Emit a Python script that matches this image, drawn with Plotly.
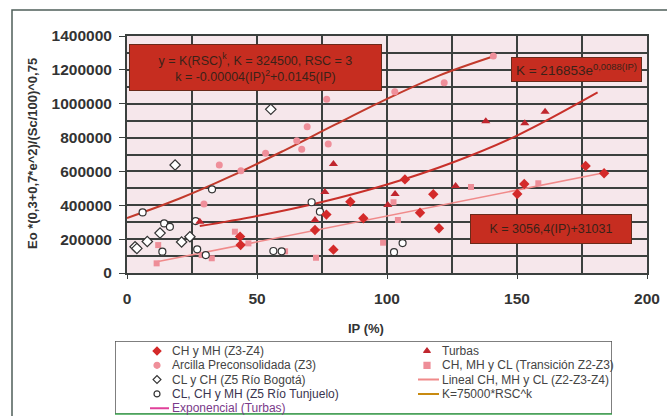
import plotly.graph_objects as go

# ---------------- data ----------------
chmh_ip = [43.5, 43.7, 72.3, 76.7, 79.4, 85.9, 90.9, 106.9, 112.7, 117.8, 120.0, 150.1, 152.8, 176.4, 183.5]
chmh_val = [215000, 165000, 254000, 345000, 138000, 421000, 323000, 553000, 356000, 465000, 264000, 467000, 526000, 632000, 589000]

turbas_ip = [28.0, 72.3, 76.1, 79.4, 100.3, 103.1, 126.4, 138.0, 153.0, 160.8]
turbas_val = [303000, 313000, 478000, 644000, 402000, 466000, 514000, 896000, 884000, 953000]

arcilla_ip = [29.6, 35.5, 43.8, 53.3, 65.3, 67.2, 69.3, 76.8, 77.4, 103.0, 122.0, 140.9]
arcilla_val = [408000, 638000, 604000, 707000, 781000, 731000, 864000, 1026000, 762000, 1071000, 1124000, 1282000]

trans_ip = [11.4, 12.0, 28.7, 32.6, 41.5, 46.7, 60.8, 72.7, 98.5, 102.5, 104.2, 132.3, 158.2]
trans_val = [57000, 165000, 106000, 87000, 244000, 175000, 128000, 90000, 179000, 418000, 313000, 508000, 530000]

bogota_ip = [3.1, 3.8, 7.8, 12.7, 18.5, 21.0, 24.2, 55.3]
bogota_val = [155000, 145000, 186000, 236000, 638000, 183000, 214000, 967000]

tunjuelo_ip = [6.0, 13.6, 14.3, 16.5, 26.4, 27.0, 30.3, 32.7, 56.3, 59.5, 71.0, 74.2, 102.7, 106.0]
tunjuelo_val = [358000, 126000, 293000, 273000, 307000, 140000, 106000, 494000, 130000, 128000, 418000, 362000, 123000, 177000]

# fitted curves
k_line_ip = [0, 20, 40, 60, 80, 100, 120, 141]
k_line_val = [324500, 438400, 572000, 720400, 876200, 1028400, 1165700, 1280000]

exp_ip = [28, 50, 75, 100, 125, 150, 181]
exp_val = [277400, 336700, 419500, 522800, 651500, 811700, 1066400]

lin_ip = [11, 100, 183]
lin_val = [64650, 336700, 590300]

legend_names = [
    "CH y MH (Z3-Z4)", "Turbas",
    "Arcilla Preconsolidada (Z3)", "CH, MH y CL (Transición Z2-Z3)",
    "CL y CH (Z5 Río Bogotá)", "Lineal CH, MH y CL (Z2-Z3-Z4)",
    "CL, CH y MH (Z5 Río Tunjuelo)", "K=75000*RSC^k",
    "Exponencial (Turbas)",
]

y_ticks = [0, 200000, 400000, 600000, 800000, 1000000, 1200000, 1400000]
x_ticks = [0, 50, 100, 150, 200]

# ---------------- styles ----------------
RED_D = "#d42a2a"
RED_T = "#c0262e"
PINK_C = "#ef8f9a"
PINK_S = "#ee8e98"
LINE_K = "#c23a2c"
LINE_E = "#c8302a"
LINE_L = "#f08a8a"
GRID = "#3b403e"
FONT = "Arial, Liberation Sans, sans-serif"

fig = go.Figure()

def add_pts(xs, ys, name, symbol, color, size, line_color=None, line_w=0):
    fig.add_trace(go.Scatter(
        x=xs, y=ys, mode="markers", name=name, showlegend=False,
        marker=dict(symbol=symbol, color=color, size=size,
                    line=dict(color=line_color or color, width=line_w)),
        xaxis="x", yaxis="y"))

# lines first
fig.add_trace(go.Scatter(x=k_line_ip, y=k_line_val, mode="lines", name=legend_names[7],
                         line=dict(color=LINE_K, width=2, shape="spline"), showlegend=False))
fig.add_trace(go.Scatter(x=exp_ip, y=exp_val, mode="lines", name=legend_names[8],
                         line=dict(color=LINE_E, width=2, shape="spline"), showlegend=False))
fig.add_trace(go.Scatter(x=lin_ip, y=lin_val, mode="lines", name=legend_names[5],
                         line=dict(color=LINE_L, width=1.6), showlegend=False))

add_pts(trans_ip, trans_val, legend_names[3], "square", PINK_S, 6)
add_pts(arcilla_ip, arcilla_val, legend_names[2], "circle", PINK_C, 7)
add_pts(bogota_ip, bogota_val, legend_names[4], "diamond", "white", 8, "#333333", 1.2)
add_pts(tunjuelo_ip, tunjuelo_val, legend_names[6], "circle", "white", 7, "#333333", 1.2)
add_pts(chmh_ip, chmh_val, legend_names[0], "diamond", RED_D, 8)
add_pts(turbas_ip, turbas_val, legend_names[1], "triangle-up", RED_T, 8)

# ---------------- manual legend (overlay axes in pixel-like units) ----------------
col_mx = [157, 427]
col_tx = [170, 440]
rows_y = [351, 365.3, 379.6, 393.9, 408.2]
leg_style = [
    ("marker", "diamond", RED_D),
    ("marker", "triangle-up", RED_T),
    ("marker", "circle", PINK_C),
    ("marker", "square", PINK_S),
    ("marker", "diamond-open", "#333333"),
    ("line", None, LINE_L),
    ("marker", "circle-open", "#333333"),
    ("line", None, "#c88a10"),
    ("line", None, "#e0409a"),
]
for i, name in enumerate(legend_names):
    col = i % 2
    row = i // 2
    kind, sym, colr = leg_style[i]
    yy = rows_y[row]
    if kind == "marker":
        fig.add_trace(go.Scatter(x=[col_mx[col]], y=[yy], mode="markers", showlegend=False,
                                 marker=dict(symbol=sym, color=colr, size=6,
                                             line=dict(color=colr, width=1.2)),
                                 xaxis="x2", yaxis="y2", cliponaxis=False, hoverinfo="skip"))
    else:
        x0 = col_tx[col] - 22 if col == 1 else col_tx[col] - 20
        fig.add_trace(go.Scatter(x=[x0, col_tx[col] - 1], y=[yy, yy], mode="lines", showlegend=False,
                                 line=dict(color=colr, width=2),
                                 xaxis="x2", yaxis="y2", cliponaxis=False, hoverinfo="skip"))
    txt_color = "#7a3a8a" if i == 8 else ("#3a3550" if i == 6 else "#444444")
    fig.add_annotation(x=col_tx[col], y=yy, xref="x2", yref="y2", text=name,
                       showarrow=False, xanchor="left", yanchor="middle",
                       font=dict(family=FONT, size=12, color=txt_color))

# ---------------- layout ----------------
W, H = 667, 416
ML, MR, MT, MB = 100, 20, 36, 0
pw = W - ML - MR
ph = H - MT - MB

def px_x(p):
    return (p - ML) / pw

def px_y(p):
    return (H - MB - p) / ph

fig.update_layout(
    width=W, height=H,
    margin=dict(l=ML, r=MR, t=MT, b=MB, autoexpand=False),
    paper_bgcolor="white",
    plot_bgcolor="#f6e7eb",
    showlegend=False,
    font=dict(family=FONT, color="#333333"),
    xaxis=dict(domain=[px_x(127), 1], range=[0, 200], tickvals=x_ticks,
               showgrid=True, gridcolor=GRID, gridwidth=1.5,
               minor=dict(dtick=25, showgrid=True, gridcolor=GRID, gridwidth=1.5),
               showline=True, linecolor=GRID, linewidth=2, mirror=True,
               ticks="outside", ticklen=4, tickcolor=GRID, ticklabelstandoff=6,
               tickfont=dict(family=FONT, size=15.5, color="#333333", weight="bold"),
               zeroline=False, anchor="y", automargin=False),
    yaxis=dict(domain=[px_y(273), 1], range=[0, 1400000], tickvals=y_ticks,
               tickformat="d",
               showgrid=True, gridcolor=GRID, gridwidth=1.5,
               minor=dict(dtick=100000, showgrid=True, gridcolor=GRID, gridwidth=1.5),
               showline=True, linecolor=GRID, linewidth=2, mirror=True,
               ticks="outside", ticklen=6, tickcolor=GRID, ticklabelstandoff=4,
               tickfont=dict(family=FONT, size=15.5, color="#333333", weight="bold"),
               zeroline=False, anchor="x", automargin=False),
    xaxis2=dict(domain=[px_x(115), px_x(612)], range=[115, 612], visible=False,
                anchor="y2", automargin=False),
    yaxis2=dict(domain=[px_y(414.5), px_y(341)], range=[414.5, 341], visible=False,
                anchor="x2", automargin=False),
)

# outer chart frame
fig.add_shape(type="rect", xref="paper", yref="paper",
              x0=px_x(12), x1=px_x(700), y0=px_y(440), y1=px_y(10),
              line=dict(color="#4f5f5a", width=1.5), fillcolor="rgba(0,0,0,0)", layer="below")
# legend box
fig.add_shape(type="rect", xref="x2", yref="y2", x0=115, x1=612, y0=341, y1=414,
              line=dict(color="#555555", width=1.5), fillcolor="white", layer="below")
fig.add_shape(type="line", xref="x2", yref="y2", x0=115, x1=612, y0=414.5, y1=414.5,
              line=dict(color="#22c040", width=2))

# axis titles
fig.add_annotation(x=px_x(366), y=px_y(328), xref="paper", yref="paper",
                   text="IP (%)", showarrow=False, xanchor="center", yanchor="middle",
                   font=dict(family=FONT, size=13, color="#333333", weight="bold"))
fig.add_annotation(x=px_x(32), y=px_y(154), xref="paper", yref="paper",
                   text="Eo *(0,3+0,7*e^2)/(Sc/100)^0,75", textangle=-90, showarrow=False,
                   xanchor="center", yanchor="middle",
                   font=dict(family=FONT, size=13, color="#333333", weight="bold"))

# equation boxes
BOX_BG = "#c62d20"
BOX_BORDER = "#6a2a1a"
BOX_TXT = "#3a2218"
fig.add_annotation(x=px_x(255.5), y=px_y(67.5), xref="paper", yref="paper",
                   text="y = K(RSC)<sup>k</sup>, K = 324500, RSC = 3<br>k = -0.00004(IP)<sup>2</sup>+0.0145(IP)",
                   showarrow=False, xanchor="center", yanchor="middle",
                   width=249, height=43, bgcolor=BOX_BG, bordercolor=BOX_BORDER, borderwidth=1,
                   font=dict(family=FONT, size=12.5, color=BOX_TXT))
fig.add_annotation(x=px_x(576.5), y=px_y(69.5), xref="paper", yref="paper",
                   text="K = 216853e<sup>0,0088(IP)</sup>",
                   showarrow=False, xanchor="center", yanchor="middle",
                   width=127, height=21, bgcolor=BOX_BG, bordercolor=BOX_BORDER, borderwidth=1,
                   font=dict(family=FONT, size=13.5, color=BOX_TXT))
fig.add_annotation(x=px_x(551), y=px_y(229), xref="paper", yref="paper",
                   text="K = 3056,4(IP)+31031",
                   showarrow=False, xanchor="center", yanchor="middle",
                   width=158, height=26, bgcolor=BOX_BG, bordercolor=BOX_BORDER, borderwidth=1,
                   font=dict(family=FONT, size=12.5, color=BOX_TXT))

fig.write_html("out.html")
